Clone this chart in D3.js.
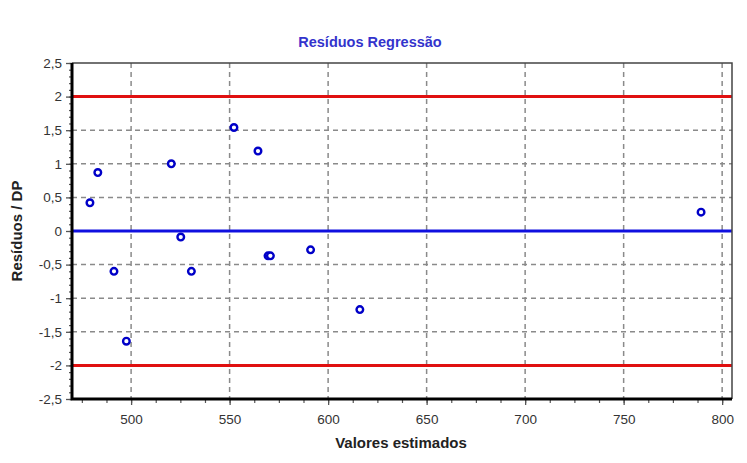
<!DOCTYPE html>
<html><head><meta charset="utf-8">
<script src="https://cdn.jsdelivr.net/npm/d3@7"></script>
<style>body{margin:0;background:#fff}svg{display:block}</style>
</head><body>
<svg id="c" width="747" height="463"></svg>
<script>
const xValues = [479.1, 483.1, 491.3, 497.6, 520.4, 525.2, 530.6, 552.2, 564.4, 569.5, 570.7, 591.1, 616.1, 789.3];
const yValues = [0.42, 0.87, -0.60, -1.64, 1.00, -0.09, -0.60, 1.54, 1.19, -0.37, -0.37, -0.28, -1.17, 0.28];
const xTicks = [500, 550, 600, 650, 700, 750, 800];
const yTicks = [-2.5, -2, -1.5, -1, -0.5, 0, 0.5, 1, 1.5, 2, 2.5];
const limits = [2, -2];
const title = "Resíduos Regressão";
const xLabel = "Valores estimados";
const yLabel = "Resíduos / DP";

const svg = d3.select("#c");
const L = 72, R = 732, T = 63, B = 399;
const x = d3.scaleLinear().domain([470, 805]).range([L, R]);
const y = d3.scaleLinear().domain([-2.5, 2.5]).range([B, T]);
const fmt = d => String(d).replace(".", ",");

// grid
const g = svg.append("g");
g.selectAll(".vg").data(xTicks).join("line")
  .attr("x1", d => x(d)).attr("x2", d => x(d)).attr("y1", T).attr("y2", B)
  .attr("stroke", "#8a8a8a").attr("stroke-width", 1.5).attr("stroke-dasharray", "5,4");
g.selectAll(".hg").data(yTicks.filter(d => d > -2.5 && d < 2.5 && d !== 0 && Math.abs(d) !== 2)).join("line")
  .attr("x1", L).attr("x2", R).attr("y1", d => y(d)).attr("y2", d => y(d))
  .attr("stroke", "#8a8a8a").attr("stroke-width", 1.5).attr("stroke-dasharray", "5,4");

// limit lines
svg.selectAll(".lim").data(limits).join("line")
  .attr("x1", L).attr("x2", R).attr("y1", d => y(d)).attr("y2", d => y(d))
  .attr("stroke", "#e01010").attr("stroke-width", 3);
svg.append("line").attr("x1", L).attr("x2", R).attr("y1", y(0)).attr("y2", y(0))
  .attr("stroke", "#1010e0").attr("stroke-width", 3);

// frame top/right
svg.append("path").attr("d", `M${L},${T}H${R}V${B}`).attr("fill", "none")
  .attr("stroke", "#444").attr("stroke-width", 1.5);

// axes
const xAxis = d3.axisBottom(x).tickValues(xTicks).tickSize(6).tickPadding(9).tickFormat(fmt);
const yAxis = d3.axisLeft(y).tickValues(yTicks).tickSize(6).tickPadding(4).tickFormat(fmt);
const xMinor = d3.range(475, 805, 12.5);
const yMinor = d3.range(-25, 26, 1).map(d => d / 10);
svg.append("g").attr("transform", `translate(0,${B})`)
  .call(d3.axisBottom(x).tickValues(xMinor).tickSize(4).tickFormat(""))
  .call(a => a.select(".domain").remove())
  .call(a => a.selectAll("line").attr("stroke", "#555").attr("stroke-width", 1.2));
svg.append("g").attr("transform", `translate(${L},0)`)
  .call(d3.axisLeft(y).tickValues(yMinor).tickSize(3).tickFormat(""))
  .call(a => a.select(".domain").remove())
  .call(a => a.selectAll("line").attr("stroke", "#555").attr("stroke-width", 1.2));
const xa = svg.append("g").attr("transform", `translate(0,${B})`).call(xAxis);
const ya = svg.append("g").attr("transform", `translate(${L},0)`).call(yAxis);
[xa, ya].forEach(a => {
  a.select(".domain").remove();
  a.selectAll("line").attr("stroke", "#555").attr("stroke-width", 1.3);
  a.selectAll("text").attr("font-family", "Liberation Sans, Arial, sans-serif")
    .attr("font-size", 13.5).attr("fill", "#333");
});
svg.append("path").attr("d", `M${L},${T}V${B}H${R}`).attr("fill", "none")
  .attr("stroke", "#000").attr("stroke-width", 3);

// points
svg.append("g").selectAll("circle").data(xValues.map((v, i) => [v, yValues[i]])).join("circle")
  .attr("cx", d => x(d[0])).attr("cy", d => y(d[1])).attr("r", 3.3)
  .attr("fill", "#fff").attr("stroke", "#0000c8").attr("stroke-width", 2.4);

// texts
svg.append("text").attr("x", 370).attr("y", 47).attr("text-anchor", "middle")
  .attr("font-family", "Liberation Sans, Arial, sans-serif").attr("font-weight", "bold")
  .attr("font-size", 14.5).attr("fill", "#3333cc").text(title);
svg.append("text").attr("x", 401).attr("y", 448).attr("text-anchor", "middle")
  .attr("font-family", "Liberation Sans, Arial, sans-serif").attr("font-weight", "bold")
  .attr("font-size", 15).attr("fill", "#222").text(xLabel);
svg.append("text").attr("transform", `translate(22,${y(0)}) rotate(-90)`).attr("text-anchor", "middle")
  .attr("font-family", "Liberation Sans, Arial, sans-serif").attr("font-weight", "bold")
  .attr("font-size", 15).attr("fill", "#222").text(yLabel);
</script>
</body></html>
